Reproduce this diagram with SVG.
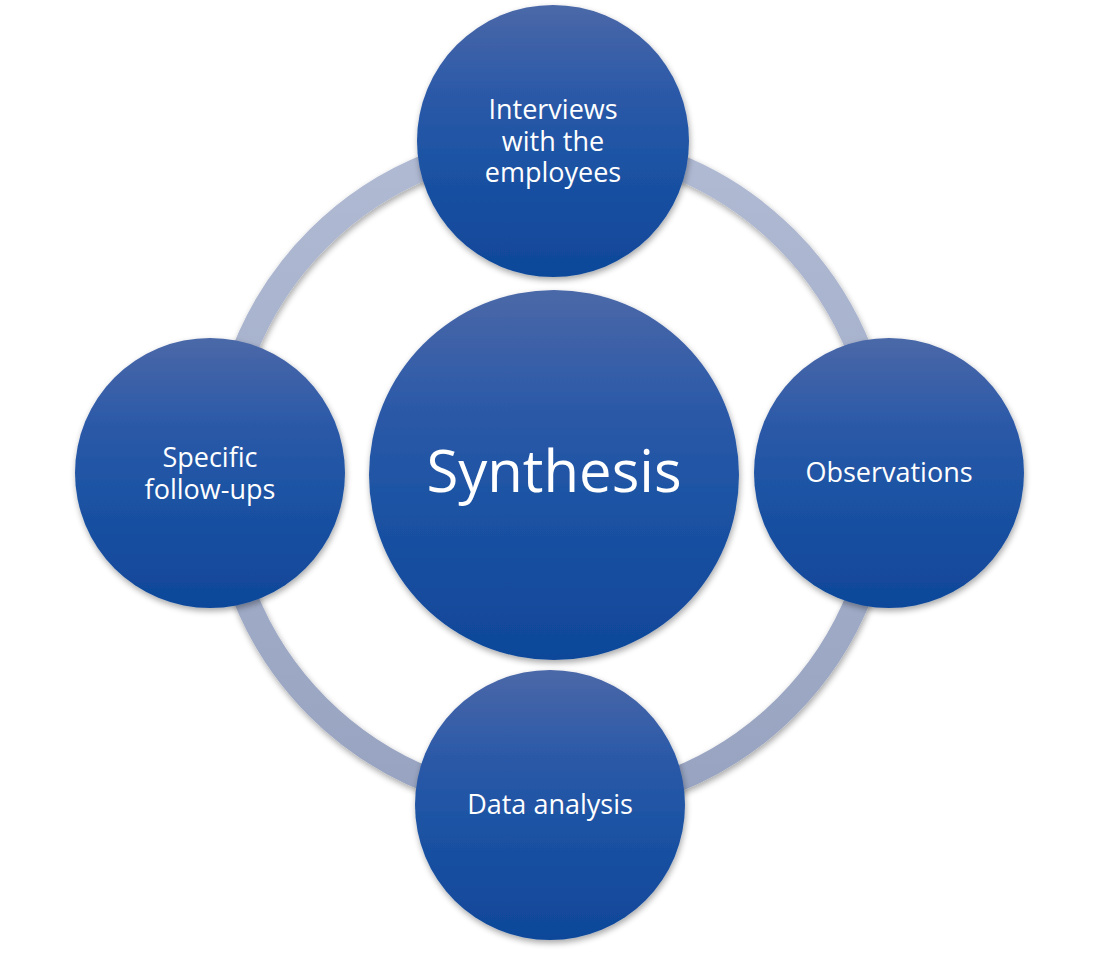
<svg xmlns="http://www.w3.org/2000/svg" width="1108" height="954" viewBox="0 0 1108 954">
<defs>
<linearGradient id="g" x1="0" y1="0" x2="0" y2="1">
<stop offset="0" stop-color="#4b68a8"/>
<stop offset="0.3" stop-color="#2d5aa8"/>
<stop offset="0.6" stop-color="#1b52a3"/>
<stop offset="1" stop-color="#0f4799"/>
</linearGradient>
<linearGradient id="rg" x1="0" y1="0" x2="0" y2="1">
<stop offset="0" stop-color="#b0bad3"/>
<stop offset="1" stop-color="#97a3c0"/>
</linearGradient>
<filter id="sh" x="-20%" y="-20%" width="140%" height="140%">
<feGaussianBlur in="SourceAlpha" stdDeviation="3"/>
<feOffset dx="1" dy="3" result="b"/>
<feComponentTransfer><feFuncA type="linear" slope="0.35"/></feComponentTransfer>
<feMerge><feMergeNode/><feMergeNode in="SourceGraphic"/></feMerge>
</filter>
</defs>
<style>
.n{fill:url(#g);filter:url(#sh)}
.t{font-family:"Open Sans","Noto Sans","Liberation Sans",sans-serif;fill:#fff;text-anchor:middle;font-size:27px}
.big{font-size:58px}
</style>
<rect width="1108" height="954" fill="#fff"/>
<g id="connectors">
<circle cx="552" cy="473" r="331" fill="none" stroke="url(#rg)" stroke-width="25" filter="url(#sh)"/>
</g>
<g id="center">
<circle class="n" cx="554" cy="475" r="185"/>
<text class="t big" x="554" y="492">Synthesis</text>
</g>
<g id="top">
<circle class="n" cx="553" cy="141" r="136"/>
<text class="t" x="553" y="119">Interviews</text>
<text class="t" x="553" y="151">with the</text>
<text class="t" x="553" y="182">employees</text>
</g>
<g id="right">
<circle class="n" cx="889" cy="473" r="135"/>
<text class="t" x="889" y="482">Observations</text>
</g>
<g id="left">
<circle class="n" cx="210" cy="473" r="135"/>
<text class="t" x="210" y="467">Specific</text>
<text class="t" x="210" y="499">follow-ups</text>
</g>
<g id="bottom">
<circle class="n" cx="550" cy="805" r="135"/>
<text class="t" x="550" y="814">Data analysis</text>
</g>
</svg>
